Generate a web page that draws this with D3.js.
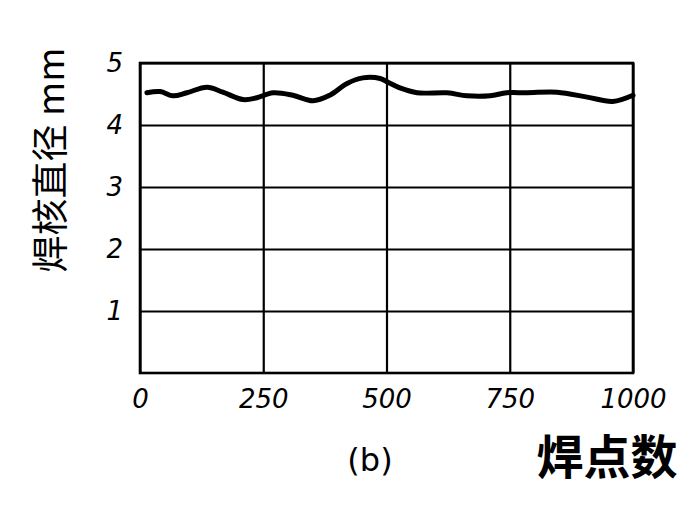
<!DOCTYPE html>
<html><head><meta charset="utf-8">
<script src="https://cdn.jsdelivr.net/npm/d3@7"></script>
<style>body{margin:0;background:#fff}svg{display:block}</style>
</head><body>
<svg id="c" width="700" height="514"></svg>
<script>
const weldCount = [14,41,67,95,136,168,209,237,270,310,351,385,420,452,487,503,527,562,623,663,710,744,785,846,907,959,1000];
const nuggetDiameter = [4.52,4.54,4.47,4.52,4.61,4.53,4.41,4.44,4.52,4.48,4.39,4.48,4.67,4.76,4.75,4.69,4.60,4.52,4.52,4.47,4.47,4.52,4.52,4.53,4.45,4.38,4.48];
const xTicks = [0,250,500,750,1000];
const yTicks = [1,2,3,4,5];
const xTickLabels = ["0","250","500","750","1000"];
const yTickLabels = ["1","2","3","4","5"];

const svg = d3.select("#c");
const m = {l:140, r:67, t:63, b:141};
const W = 700 - m.l - m.r, H = 514 - m.t - m.b;
const x = d3.scaleLinear().domain([0,1000]).range([0,W]);
const y = d3.scaleLinear().domain([0,5]).range([H,0]);
const g = svg.append("g").attr("transform",`translate(${m.l},${m.t})`);

const font = "'DejaVu Sans', sans-serif";
const xa = g.append("g").attr("transform",`translate(0,${H})`)
  .call(d3.axisBottom(x).tickValues(xTicks).tickFormat((d,i)=>xTickLabels[i]).tickSize(-H).tickPadding(12));
const ya = g.append("g")
  .call(d3.axisLeft(y).tickValues(yTicks).tickFormat((d,i)=>yTickLabels[i]).tickSize(-W).tickPadding(17));
[xa,ya].forEach(a=>{
  a.select(".domain").remove();
  a.selectAll("line").attr("stroke","#000").attr("stroke-width",2.2);
  a.selectAll("text").attr("fill","#000").style("font-family",font).style("font-style","italic").style("font-size","26px");
});
xa.selectAll("text").attr("dy","0.9em");
g.append("rect").attr("x",0).attr("y",0).attr("width",W).attr("height",H)
  .attr("fill","none").attr("stroke","#000").attr("stroke-width",2.6);

const line = d3.line().x((d,i)=>x(weldCount[i])).y(d=>y(d)).curve(d3.curveCatmullRom.alpha(0.5));
g.append("path").datum(nuggetDiameter).attr("d",line)
  .attr("fill","none").attr("stroke","#000").attr("stroke-width",5).attr("stroke-linecap","round");

svg.append("text").attr("transform","translate(48,160) rotate(-90)")
  .attr("text-anchor","middle").attr("dominant-baseline","central")
  .style("font-family","'Noto Sans CJK SC', sans-serif").style("font-size","37px").attr("fill","#000")
  .text("焊核直径 mm");
svg.append("text").attr("x",607).attr("y",453).attr("text-anchor","middle").attr("dominant-baseline","central")
  .style("font-family","'Noto Sans CJK SC', sans-serif").style("font-size","47px").style("font-weight","bold").attr("fill","#000")
  .text("焊点数");
svg.append("text").attr("x",370).attr("y",460).attr("text-anchor","middle").attr("dominant-baseline","central")
  .style("font-family",font).style("font-size","32px").attr("fill","#000")
  .text("(b)");
</script>
</body></html>
